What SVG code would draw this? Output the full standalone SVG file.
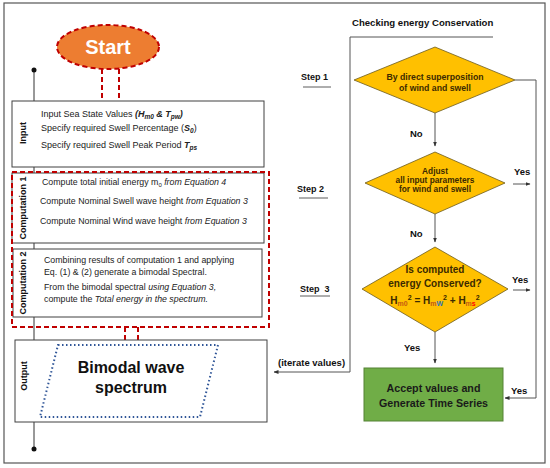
<svg xmlns="http://www.w3.org/2000/svg" width="550" height="468" viewBox="0 0 550 468">
<defs>
<style>
.t{font-family:"Liberation Sans",Arial,sans-serif;fill:#222}
.b{font-weight:bold}
.i{font-style:italic}
.box{fill:#fff;stroke:#404040;stroke-width:1}
.lbl{font-family:"Liberation Sans",Arial,sans-serif;font-weight:bold;font-size:9px;fill:#111;text-anchor:middle}
.dia{fill:#FFC000;stroke:#6b5a1e;stroke-width:0.8}
.con{fill:none;stroke:#555;stroke-width:1}
.red{fill:none;stroke:#C00000;stroke-width:2;stroke-dasharray:5 3}
.dt{font-family:"Liberation Sans",Arial,sans-serif;font-weight:bold;fill:#3b2a00;text-anchor:middle}
.rt{font-family:"Liberation Sans",Arial,sans-serif;font-weight:bold;fill:#111}
</style>
<marker id="ah" viewBox="0 0 10 10" refX="9" refY="5" markerWidth="5" markerHeight="5" orient="auto">
<path d="M0,1 L10,5 L0,9 z" fill="#333"/>
</marker>
</defs>
<rect x="0" y="0" width="550" height="468" fill="#fff"/>
<rect x="4" y="3" width="541" height="460" fill="none" stroke="#555" stroke-width="1.2"/>

<g id="connectors">
<line class="red" x1="102" y1="69" x2="102" y2="101"/>
<line class="red" x1="119" y1="69" x2="119" y2="101"/>
<line class="red" x1="125" y1="327" x2="125" y2="345"/>
<line class="red" x1="138" y1="327" x2="138" y2="345"/>
<line x1="34" y1="70" x2="34" y2="449" stroke="#333" stroke-width="1"/>
<circle cx="34" cy="70" r="2.5" fill="#111"/>
<circle cx="34" cy="449" r="2.5" fill="#111"/>
<polyline class="con" points="493,37 350,37 350,372 274,372" marker-end="url(#ah)"/>
<line class="con" x1="435" y1="113" x2="435" y2="146" marker-end="url(#ah)"/>
<line class="con" x1="435" y1="214" x2="435" y2="242" marker-end="url(#ah)"/>
<line class="con" x1="435" y1="332" x2="435" y2="363" marker-end="url(#ah)"/>
<polyline class="con" points="515,80 536,80 536,398 505,398" marker-end="url(#ah)"/>
<line class="con" x1="513" y1="184" x2="530" y2="184" marker-end="url(#ah)"/>
<line class="con" x1="513" y1="290" x2="530" y2="290" marker-end="url(#ah)"/>
<text class="rt" x="410" y="137" font-size="9.5">No</text>
<text class="rt" x="410" y="237" font-size="9.5">No</text>
<text class="rt" x="404" y="351" font-size="9.5">Yes</text>
<text class="rt" x="514" y="175" font-size="9.5">Yes</text>
<text class="rt" x="512" y="283" font-size="9.5">Yes</text>
<text class="rt" x="511" y="394" font-size="9.5">Yes</text>
<text class="rt" x="278" y="366" font-size="9.5">(iterate values)</text>
</g>

<g id="start">
<ellipse cx="108" cy="47" rx="51" ry="22" fill="#ED7D31" stroke="#C00000" stroke-width="2" stroke-dasharray="5 3"/>
<text x="108" y="54" font-family="'Liberation Sans',Arial,sans-serif" font-weight="bold" font-size="20" fill="#fff" text-anchor="middle">Start</text>
</g>

<g id="input">
<rect class="box" x="12" y="101" width="252" height="66"/>
<text class="lbl" transform="translate(26,133) rotate(-90)">Input</text>
<text class="t" x="41" y="117" font-size="9">Input Sea State Values <tspan class="b i">(H<tspan font-size="6.5" dy="2">m0</tspan><tspan dy="-2"> &amp; T</tspan><tspan font-size="6.5" dy="2">pw</tspan><tspan dy="-2">)</tspan></tspan></text>
<text class="t" x="41" y="131" font-size="9">Specify required Swell Percentage (<tspan class="b i">S<tspan font-size="6.5" dy="2">0</tspan></tspan><tspan dy="-2">)</tspan></text>
<text class="t" x="41" y="148" font-size="9">Specify required Swell Peak Period <tspan class="b i">T<tspan font-size="6.5" dy="2">ps</tspan></tspan></text>
</g>

<g id="computation1">
<rect class="box" x="12" y="173" width="252" height="70"/>
<text class="lbl" transform="translate(26,208) rotate(-90)">Computation 1</text>
<text class="t" x="42" y="185" font-size="8.8">Compute total initial energy m<tspan font-size="6" dy="1.5">0</tspan><tspan dy="-1.5" class="i"> from Equation  4</tspan></text>
<text class="t" x="40" y="204" font-size="8.8">Compute Nominal Swell wave height <tspan class="i">from Equation 3</tspan></text>
<text class="t" x="40" y="224" font-size="8.8">Compute Nominal Wind  wave height <tspan class="i">from Equation 3</tspan></text>
</g>

<g id="computation2">
<rect class="box" x="13" y="249" width="249" height="68"/>
<text class="lbl" transform="translate(26,283) rotate(-90)">Computation 2</text>
<text class="t" x="44" y="263" font-size="8.8">Combining results of computation 1 and applying</text>
<text class="t" x="44" y="275" font-size="8.8">Eq. (1) &amp; (2) generate  a bimodal Spectral.</text>
<text class="t" x="44" y="290" font-size="8.8">From the bimodal spectral <tspan class="i">using Equation 3,</tspan></text>
<text class="t" x="44" y="302" font-size="8.8">compute the <tspan class="i">Total energy  in the spectrum.</tspan></text>
</g>

<g id="computation-group">
<rect class="red" x="12" y="172" width="257" height="155"/>
</g>

<g id="output">
<rect class="box" x="15" y="340" width="252" height="82"/>
<text class="lbl" transform="translate(27,376) rotate(-90)">Output</text>
<polygon points="58,345 218,345 200,417 40,417" fill="none" stroke="#2F5597" stroke-width="2" stroke-dasharray="1.5 2.5"/>
<text x="131" y="373" font-family="'Liberation Sans',Arial,sans-serif" font-weight="bold" font-size="16" fill="#111" text-anchor="middle">Bimodal wave</text>
<text x="131" y="393" font-family="'Liberation Sans',Arial,sans-serif" font-weight="bold" font-size="16" fill="#111" text-anchor="middle">spectrum</text>
</g>

<g id="header">
<text class="rt" x="352" y="26" font-size="9.6">Checking energy Conservation</text>
</g>

<g id="steps">
<text class="rt" x="301" y="80" font-size="9">Step 1</text>
<line x1="303" y1="87" x2="331" y2="87" stroke="#333" stroke-width="0.8"/>
<text class="rt" x="297" y="192" font-size="9">Step 2</text>
<line x1="299" y1="198" x2="328" y2="198" stroke="#333" stroke-width="0.8"/>
<text class="rt" x="300" y="292" font-size="9" xml:space="preserve">Step  3</text>
<line x1="300" y1="296" x2="330" y2="296" stroke="#333" stroke-width="0.8"/>
</g>

<g id="decision1">
<polygon class="dia" points="435,47 515,80 435,113 354,80"/>
<text class="dt" x="435" y="80" font-size="8.7">By direct superposition</text>
<text class="dt" x="435" y="91" font-size="8.7">of wind and swell</text>
</g>

<g id="decision2">
<polygon class="dia" points="435,152 505,183 435,214 365,183"/>
<text class="dt" x="435" y="174" font-size="8.3">Adjust</text>
<text class="dt" x="435" y="183" font-size="8.3">all input parameters</text>
<text class="dt" x="435" y="192" font-size="8.3">for wind and swell</text>
</g>

<g id="decision3">
<polygon class="dia" points="435,247 508,289 435,332 362,289"/>
<text class="dt" x="435" y="273" font-size="10" fill="#222">Is computed</text>
<text class="dt" x="435" y="287" font-size="10" fill="#222">energy Conserved?</text>
<text class="dt" x="435" y="304" font-size="10" fill="#222">H<tspan font-size="7" dy="2" fill="#C55A11">m0</tspan><tspan font-size="7" dy="-6">2</tspan><tspan dy="4"> = H</tspan><tspan font-size="7" dy="2" fill="#C55A11">m</tspan><tspan font-size="7" fill="#2E75B6">W</tspan><tspan font-size="7" dy="-6">2</tspan><tspan dy="4"> + H</tspan><tspan font-size="7" dy="2" fill="#C55A11">m</tspan><tspan font-size="7" fill="#FF0000">s</tspan><tspan font-size="7" dy="-6">2</tspan></text>
</g>

<g id="accept">
<rect x="364" y="368" width="139" height="53" fill="#70AD47" stroke="#548235" stroke-width="1"/>
<text x="433.5" y="392" font-family="'Liberation Sans',Arial,sans-serif" font-weight="bold" font-size="10.7" fill="#1a1a1a" text-anchor="middle">Accept values and</text>
<text x="433.5" y="407" font-family="'Liberation Sans',Arial,sans-serif" font-weight="bold" font-size="10.7" fill="#1a1a1a" text-anchor="middle">Generate Time Series</text>
</g>
</svg>
